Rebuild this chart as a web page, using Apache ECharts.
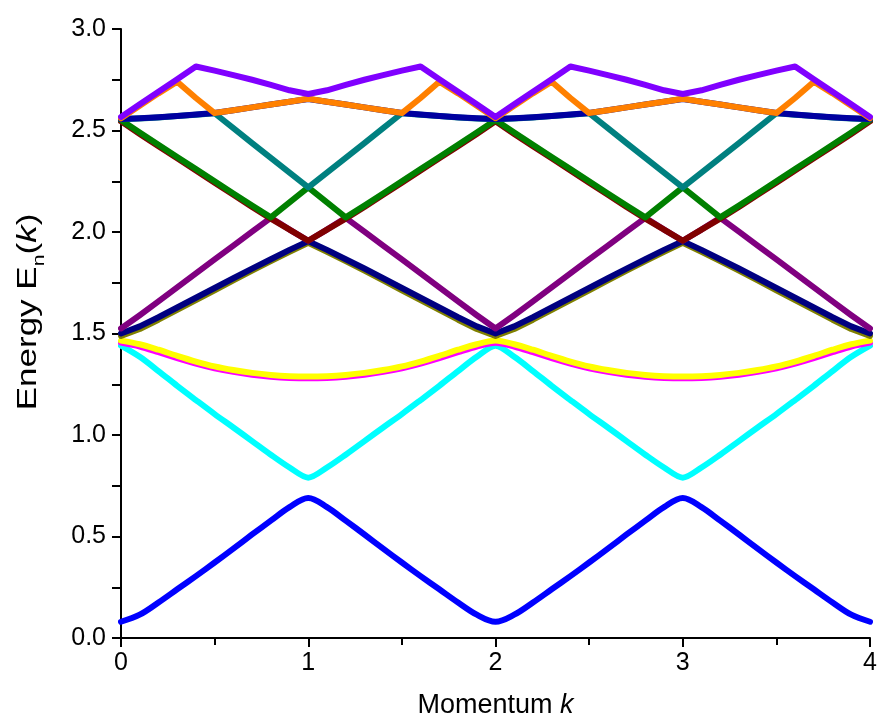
<!DOCTYPE html>
<html><head><meta charset="utf-8">
<script src="https://cdn.jsdelivr.net/npm/echarts@6/dist/echarts.min.js"></script>
<style>html,body{margin:0;padding:0;background:#fff}#c{width:879px;height:724px}</style>
</head><body><div id="c"></div>
<script>
const k = [0,0.1,0.2,0.3,0.4,0.5,0.6,0.7,0.8,0.9,1.0,1.1,1.2,1.3,1.4,1.5,1.6,1.7,1.8,1.9,2.0,2.1,2.2,2.3,2.4,2.5,2.6,2.7,2.8,2.9,3.0,3.1,3.2,3.3,3.4,3.5,3.6,3.7,3.8,3.9,4.0];
const xTicks = [0,1,2,3,4];
const yTicks = [0.0,0.5,1.0,1.5,2.0,2.5,3.0];

const blue = [0.08,0.115,0.175,0.24,0.305,0.372,0.44,0.51,0.578,0.645,0.69,0.645,0.578,0.51,0.44,0.372,0.305,0.24,0.175,0.115,0.08,0.115,0.175,0.24,0.305,0.372,0.44,0.51,0.578,0.645,0.69,0.645,0.578,0.51,0.44,0.372,0.305,0.24,0.175,0.115,0.08];
const cyan = [1.44,1.385,1.315,1.242,1.172,1.103,1.037,0.97,0.903,0.84,0.79,0.84,0.903,0.97,1.037,1.103,1.172,1.242,1.315,1.385,1.44,1.385,1.315,1.242,1.172,1.103,1.037,0.97,0.903,0.84,0.79,0.84,0.903,0.97,1.037,1.103,1.172,1.242,1.315,1.385,1.44];
const magenta = [1.455,1.436,1.408,1.379,1.352,1.329,1.311,1.297,1.287,1.281,1.279,1.281,1.287,1.297,1.311,1.329,1.352,1.379,1.408,1.436,1.455,1.436,1.408,1.379,1.352,1.329,1.311,1.297,1.287,1.281,1.279,1.281,1.287,1.297,1.311,1.329,1.352,1.379,1.408,1.436,1.455];
const yellow = [1.465,1.447,1.42,1.39,1.362,1.338,1.32,1.306,1.296,1.29,1.288,1.29,1.296,1.306,1.32,1.338,1.362,1.39,1.42,1.447,1.465,1.447,1.42,1.39,1.362,1.338,1.32,1.306,1.296,1.29,1.288,1.29,1.296,1.306,1.32,1.338,1.362,1.39,1.42,1.447,1.465];
const olive = [1.488,1.522,1.568,1.617,1.665,1.713,1.762,1.81,1.857,1.903,1.947,1.903,1.857,1.81,1.762,1.713,1.665,1.617,1.568,1.522,1.488,1.522,1.568,1.617,1.665,1.713,1.762,1.81,1.857,1.903,1.947,1.903,1.857,1.81,1.762,1.713,1.665,1.617,1.568,1.522,1.488];
const navy = [1.50,1.535,1.58,1.628,1.676,1.724,1.772,1.82,1.866,1.912,1.955,1.912,1.866,1.82,1.772,1.724,1.676,1.628,1.58,1.535,1.50,1.535,1.58,1.628,1.676,1.724,1.772,1.82,1.866,1.912,1.955,1.912,1.866,1.82,1.772,1.724,1.676,1.628,1.58,1.535,1.50];
const purple = [1.525,1.59,1.658,1.727,1.796,1.865,1.933,2.002,2.07,2.012,1.957,2.012,2.07,2.002,1.933,1.865,1.796,1.727,1.658,1.59,1.525,1.59,1.658,1.727,1.796,1.865,1.933,2.002,2.07,2.012,1.957,2.012,2.07,2.002,1.933,1.865,1.796,1.727,1.658,1.59,1.525];
const wine = [2.545,2.483,2.423,2.363,2.303,2.243,2.183,2.123,2.066,2.012,1.957,2.012,2.066,2.123,2.183,2.243,2.303,2.363,2.423,2.483,2.545,2.483,2.423,2.363,2.303,2.243,2.183,2.123,2.066,2.012,1.957,2.012,2.066,2.123,2.183,2.243,2.303,2.363,2.423,2.483,2.545];
const green = [2.552,2.49,2.43,2.37,2.31,2.25,2.19,2.13,2.072,2.146,2.22,2.146,2.072,2.13,2.19,2.25,2.31,2.37,2.43,2.49,2.552,2.49,2.43,2.37,2.31,2.25,2.19,2.13,2.072,2.146,2.22,2.146,2.072,2.13,2.19,2.25,2.31,2.37,2.43,2.49,2.552];
const teal = [2.556,2.559,2.564,2.571,2.578,2.585,2.512,2.438,2.365,2.292,2.22,2.292,2.365,2.438,2.512,2.585,2.578,2.571,2.564,2.559,2.556,2.559,2.564,2.571,2.578,2.585,2.512,2.438,2.365,2.292,2.22,2.292,2.365,2.438,2.512,2.585,2.578,2.571,2.564,2.559,2.556];
const royal = [2.557,2.56,2.565,2.572,2.579,2.586,2.6,2.614,2.628,2.642,2.655,2.642,2.628,2.614,2.6,2.586,2.579,2.572,2.565,2.56,2.557,2.56,2.565,2.572,2.579,2.586,2.6,2.614,2.628,2.642,2.655,2.642,2.628,2.614,2.6,2.586,2.579,2.572,2.565,2.56,2.557];
const orange = [2.56,2.622,2.683,2.74,2.66,2.586,2.6,2.614,2.628,2.642,2.656,2.642,2.628,2.614,2.6,2.586,2.66,2.74,2.683,2.622,2.56,2.622,2.683,2.74,2.66,2.586,2.6,2.614,2.628,2.642,2.656,2.642,2.628,2.614,2.6,2.586,2.66,2.74,2.683,2.622,2.56];
const violet = [2.567,2.629,2.691,2.753,2.815,2.795,2.773,2.75,2.725,2.698,2.68,2.698,2.725,2.75,2.773,2.795,2.815,2.753,2.691,2.629,2.567,2.629,2.691,2.753,2.815,2.795,2.773,2.75,2.725,2.698,2.68,2.698,2.725,2.75,2.773,2.795,2.815,2.753,2.691,2.629,2.567];

const bands = [
  {name:'band1', data: blue, color:'#0000ff', smooth:0.35},
  {name:'band2', data: cyan, color:'#00ffff', smooth:0.3},
  {name:'band3', data: magenta, color:'#ff00ff', smooth:0.3},
  {name:'band4', data: yellow, color:'#ffff00', smooth:0.3},
  {name:'band5', data: olive, color:'#808000', smooth:0},
  {name:'band6', data: navy, color:'#000080', smooth:0},
  {name:'band7', data: purple, color:'#800080', smooth:0},
  {name:'band8', data: wine, color:'#800000', smooth:0},
  {name:'band9', data: green, color:'#008000', smooth:0},
  {name:'band10', data: teal, color:'#008080', smooth:0},
  {name:'band11', data: royal, color:'#0000a0', smooth:0},
  {name:'band12', data: orange, color:'#ff8000', smooth:0},
  {name:'band13', data: violet, color:'#8000ff', smooth:0}
];

const chart = echarts.init(document.getElementById('c'), null, {renderer:'canvas'});
const fontFam = '"Liberation Sans", Arial, sans-serif';
chart.setOption({
  animation: false,
  backgroundColor: '#ffffff',
  grid: {left: 121, right: 9, top: 29, bottom: 86, containLabel: false, outerBoundsMode: 'none'},
  graphic: [{
    type: 'text',
    x: 31, y: 312,
    rotation: Math.PI / 2,
    scaleX: 1.25, scaleY: 1,
    silent: true,
    style: {
      text: '{a|Energy E}{s|n}{a|(}{i|k}{a|)}',
      align: 'center', verticalAlign: 'middle',
      rich: {
        a: {fontSize: 28, fontFamily: fontFam, fill: '#000', lineHeight: 30, verticalAlign: 'top'},
        i: {fontSize: 28, fontFamily: fontFam, fontStyle: 'italic', fill: '#000', lineHeight: 30, verticalAlign: 'top'},
        s: {fontSize: 17, fontFamily: fontFam, fill: '#000', lineHeight: 34, verticalAlign: 'bottom'}
      }
    }
  }],
  xAxis: {
    type: 'value', min: 0, max: 4, interval: 1,
    name: '{a|Momentum }{i|k}',
    nameLocation: 'middle', nameGap: 54,
    nameTextStyle: {rich: {
      a: {fontSize: 27, fontFamily: fontFam, color: '#000'},
      i: {fontSize: 27, fontFamily: fontFam, fontStyle: 'italic', color: '#000'}
    }},
    axisLine: {show: true, onZero: false, lineStyle: {color: '#000', width: 2}},
    axisTick: {show: true, inside: false, length: 9, lineStyle: {color: '#000', width: 2}},
    minorTick: {show: true, splitNumber: 2, length: 7, lineStyle: {color: '#000', width: 2}},
    axisLabel: {color: '#000', fontSize: 25, fontFamily: fontFam, margin: 13,
      formatter: v => xTicks.includes(v) ? String(v) : ''},
    splitLine: {show: false}
  },
  yAxis: {
    type: 'value', min: 0, max: 3, interval: 0.5,
    axisLine: {show: true, onZero: false, lineStyle: {color: '#000', width: 2}},
    axisTick: {show: true, inside: false, length: 9, lineStyle: {color: '#000', width: 2}},
    minorTick: {show: true, splitNumber: 2, length: 9, lineStyle: {color: '#000', width: 2}},
    axisLabel: {color: '#000', fontSize: 25, fontFamily: fontFam, margin: 15,
      formatter: v => yTicks.some(t => Math.abs(t - v) < 1e-9) ? v.toFixed(1) : ''},
    splitLine: {show: false}
  },
  series: bands.map(b => ({
    name: b.name, type: 'line',
    data: k.map((x, i) => [x, b.data[i]]),
    showSymbol: false, symbol: 'none',
    smooth: b.smooth,
    lineStyle: {color: b.color, width: 6, cap: 'round', join: 'round'},
    itemStyle: {color: b.color},
    emphasis: {disabled: true}
  }))
});
</script>
</body></html>
